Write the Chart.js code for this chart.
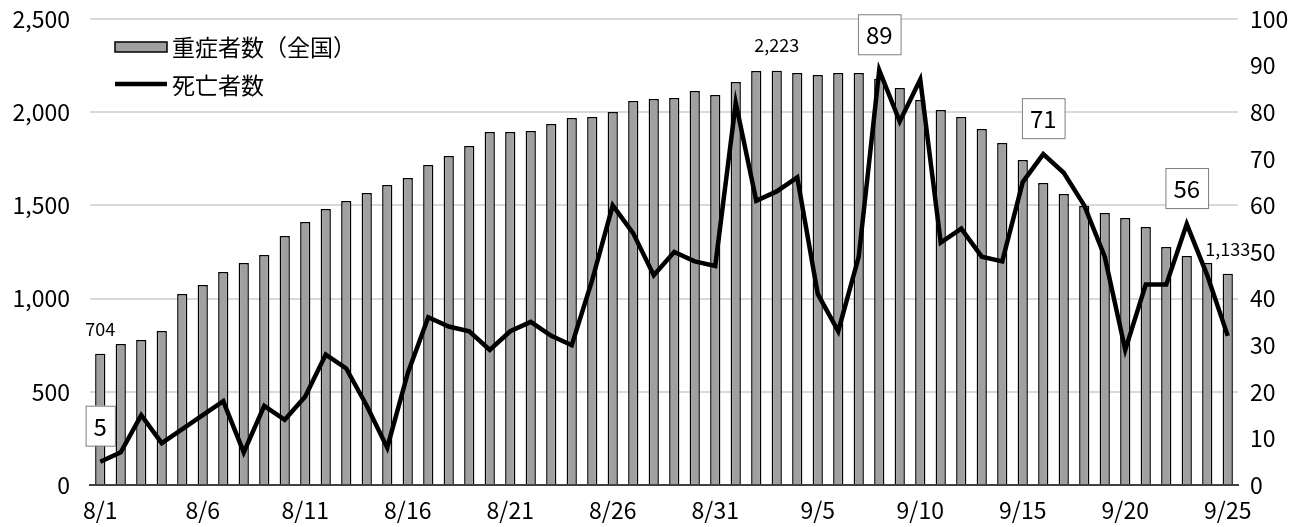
<!DOCTYPE html>
<html>
<head>
<meta charset="utf-8">
<script src="https://cdn.jsdelivr.net/npm/chart.js@4.4.1/dist/chart.umd.min.js"></script>
<style>
  html, body { margin: 0; padding: 0; background: #fff; }
  #wrap { width: 1308px; height: 527px; }
</style>
</head>
<body>
<div id="wrap"><canvas id="chart"></canvas></div>
<script>
const days = [
  '8/1','8/2','8/3','8/4','8/5','8/6','8/7','8/8','8/9','8/10',
  '8/11','8/12','8/13','8/14','8/15','8/16','8/17','8/18','8/19','8/20',
  '8/21','8/22','8/23','8/24','8/25','8/26','8/27','8/28','8/29','8/30','8/31',
  '9/1','9/2','9/3','9/4','9/5','9/6','9/7','9/8','9/9','9/10',
  '9/11','9/12','9/13','9/14','9/15','9/16','9/17','9/18','9/19','9/20',
  '9/21','9/22','9/23','9/24','9/25'
];

// 重症者数（全国）
const severeCases = [
  704, 756, 778, 826, 1025, 1073, 1143, 1191, 1234, 1336,
  1411, 1481, 1524, 1567, 1609, 1647, 1717, 1765, 1819, 1894,
  1894, 1899, 1937, 1969, 1974, 2001, 2060, 2071, 2076, 2114, 2092,
  2162, 2221, 2223, 2210, 2200, 2210, 2210, 2180, 2130, 2065,
  2012, 1974, 1910, 1835, 1744, 1620, 1561, 1497, 1459, 1432,
  1384, 1277, 1229, 1191, 1133
];

// 死亡者数
const deaths = [
  5, 7, 15, 9, 12, 15, 18, 7, 17, 14,
  19, 28, 25, 17, 8, 24, 36, 34, 33, 29,
  33, 35, 32, 30, 44, 60, 54, 45, 50, 48, 47,
  82, 61, 63, 66, 41, 33, 49, 89, 78, 87,
  52, 55, 49, 48, 65, 71, 67, 60, 49, 29,
  43, 43, 56, 45, 32
];

const leftTicks = [0, 500, 1000, 1500, 2000, 2500];
const rightTicks = [0, 10, 20, 30, 40, 50, 60, 70, 80, 90, 100];

// which points get a value label
const barLabelIdx = [0, 33, 55];
const deathLabelIdx = [0, 38, 46, 53];

const legendItems = ['重症者数（全国）', '死亡者数'];

const FONT = '"Noto Sans CJK JP", "Noto Sans", sans-serif';
const fmt = v => v.toLocaleString('en-US');

// legend + value labels
const overlay = {
  id: 'overlay',
  afterDatasetsDraw(chart) {
    const ctx = chart.ctx;
    ctx.save();

    // bar value labels
    const barMeta = chart.getDatasetMeta(0);
    ctx.fillStyle = '#000';
    ctx.font = '18px ' + FONT;
    ctx.textAlign = 'center';
    ctx.textBaseline = 'middle';
    barLabelIdx.forEach(i => {
      const el = barMeta.data[i];
      ctx.fillText(fmt(severeCases[i]), el.x, el.y - 25);
    });

    // boxed death labels
    const lineMeta = chart.getDatasetMeta(1);
    ctx.font = '24px ' + FONT;
    deathLabelIdx.forEach(i => {
      const el = lineMeta.data[i];
      const txt = String(deaths[i]);
      const w = ctx.measureText(txt).width + 16;
      const h = 40;
      const bx = el.x - w / 2;
      const by = el.y - 16 - h;
      ctx.fillStyle = '#fff';
      ctx.fillRect(bx, by, w, h);
      ctx.strokeStyle = '#7f7f7f';
      ctx.lineWidth = 1;
      ctx.strokeRect(bx + 0.5, by + 0.5, w, h);
      ctx.fillStyle = '#000';
      ctx.fillText(txt, el.x, by + h / 2 + 1);
    });

    // legend
    ctx.font = '23px ' + FONT;
    ctx.textAlign = 'left';
    ctx.fillStyle = '#a0a0a0';
    ctx.fillRect(115, 42, 52, 10);
    ctx.strokeStyle = '#000';
    ctx.lineWidth = 1.5;
    ctx.strokeRect(115, 42, 52, 10);
    ctx.beginPath();
    ctx.lineWidth = 4.5;
    ctx.moveTo(115, 84);
    ctx.lineTo(167, 84);
    ctx.stroke();
    ctx.fillStyle = '#000';
    ctx.fillText(legendItems[0], 172, 47);
    ctx.fillText(legendItems[1], 172, 85);

    ctx.restore();
  }
};

new Chart(document.getElementById('chart'), {
  data: {
    labels: days,
    datasets: [
      {
        type: 'bar',
        label: legendItems[0],
        data: severeCases,
        yAxisID: 'y',
        backgroundColor: '#a0a0a0',
        borderColor: '#000',
        borderWidth: 1.5,
        barPercentage: 0.5,
        categoryPercentage: 1,
        order: 2
      },
      {
        type: 'line',
        label: legendItems[1],
        data: deaths,
        yAxisID: 'y2',
        borderColor: '#000',
        borderWidth: 4.5,
        pointRadius: 0,
        tension: 0,
        order: 1
      }
    ]
  },
  options: {
    responsive: true,
    maintainAspectRatio: false,
    animation: false,
    layout: { padding: { top: 19, right: 0, bottom: 0, left: 0 } },
    plugins: { legend: { display: false }, tooltip: { enabled: false } },
    scales: {
      x: {
        grid: { display: false },
        border: { display: true, color: '#404040', width: 2 },
        ticks: {
          autoSkip: false,
          maxRotation: 0,
          padding: 3,
          color: '#000',
          font: { family: FONT, size: 23 },
          callback: (v, i) => (i % 5 === 0 ? days[i] : '')
        },
        afterFit: s => { s.height = 42; s.paddingLeft = 0; s.paddingRight = 0; }
      },
      y: {
        position: 'left',
        min: leftTicks[0],
        max: leftTicks[leftTicks.length - 1],
        afterBuildTicks: s => { s.ticks = leftTicks.map(v => ({ value: v })); },
        border: { display: false },
        grid: { color: '#d9d9d9', lineWidth: 2, drawTicks: false },
        ticks: {
          padding: 20,
          color: '#000',
          font: { family: FONT, size: 23 },
          callback: v => fmt(v)
        },
        afterFit: s => { s.width = 90; s.paddingTop = 0; s.paddingBottom = 0; }
      },
      y2: {
        position: 'right',
        min: rightTicks[0],
        max: rightTicks[rightTicks.length - 1],
        afterBuildTicks: s => { s.ticks = rightTicks.map(v => ({ value: v })); },
        border: { display: false },
        grid: { display: false, drawTicks: false },
        ticks: {
          padding: 12,
          color: '#000',
          font: { family: FONT, size: 23 }
        },
        afterFit: s => { s.width = 70; s.paddingTop = 0; s.paddingBottom = 0; }
      }
    }
  },
  plugins: [overlay]
});
</script>
</body>
</html>
